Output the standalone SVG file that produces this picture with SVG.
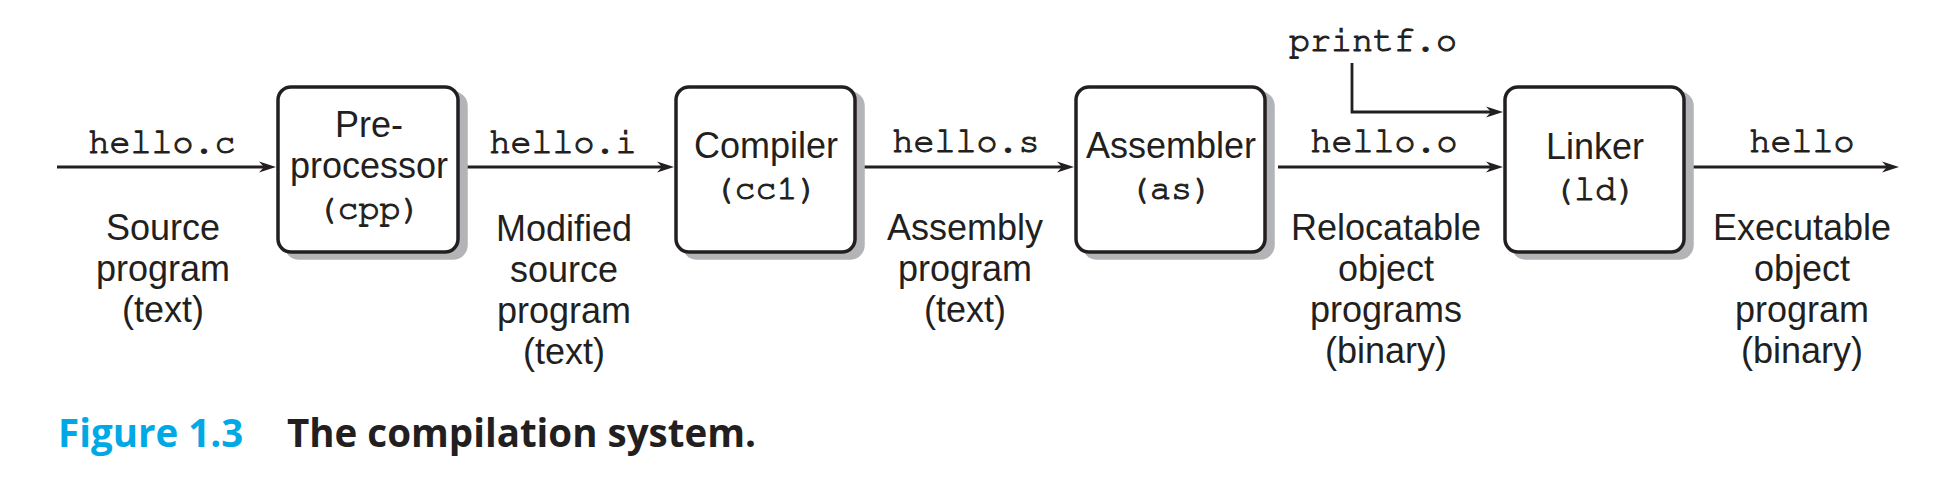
<svg xmlns="http://www.w3.org/2000/svg" width="1960" height="480" viewBox="0 0 1960 480">
<style>
.box{fill:#fff;stroke:#231f20;stroke-width:3.5}
.shadow{fill:#b3b4b7;stroke:#b3b4b7;stroke-width:3.5}
.sans{font-family:"Liberation Sans",Arial,sans-serif;font-size:36px;fill:#231f20;text-anchor:middle}
.mono{font-family:"Nimbus Mono PS","Nimbus Mono L","FreeMono","Courier 10 Pitch","Liberation Mono","Courier New",monospace;font-size:35px;fill:#231f20;stroke:#231f20;stroke-width:1.1;text-anchor:middle}
.conn{fill:none;stroke:#231f20;stroke-width:2.8}
.cap{font-family:"Open Sans","Noto Sans",sans-serif;font-size:38.5px;font-weight:700}
</style>
<defs>
<marker id="arr" viewBox="-19 -7 21 14" markerWidth="21" markerHeight="14" refX="-8" refY="0" orient="auto" markerUnits="userSpaceOnUse">
<path d="M0,0 L-17,-5.5 L-12,0 L-17,5.5 Z" fill="#231f20"/>
</marker>
</defs>
<rect width="1960" height="480" fill="#fff"/>

<g id="connectors">
<line class="conn" x1="57" y1="167" x2="268" y2="167" marker-end="url(#arr)"/>
<line class="conn" x1="460" y1="167" x2="666" y2="167" marker-end="url(#arr)"/>
<line class="conn" x1="857" y1="167" x2="1066" y2="167" marker-end="url(#arr)"/>
<line class="conn" x1="1278" y1="167" x2="1495" y2="167" marker-end="url(#arr)"/>
<path class="conn" d="M1352,63 V112 H1495" marker-end="url(#arr)"/>
<line class="conn" x1="1686" y1="167" x2="1891" y2="167" marker-end="url(#arr)"/>
</g>

<g id="connector-labels">
<text class="mono" x="162" y="153">hello.c</text>
<text class="mono" x="563" y="153">hello.i</text>
<text class="mono" x="966" y="152">hello.s</text>
<text class="mono" x="1384" y="152">hello.o</text>
<text class="mono" x="1373" y="51">printf.o</text>
<text class="mono" x="1802" y="152">hello</text>
<text class="sans" x="163"><tspan x="163" y="240">Source</tspan><tspan x="163" y="281">program</tspan><tspan x="163" y="322">(text)</tspan></text>
<text class="sans" x="564"><tspan x="564" y="241">Modified</tspan><tspan x="564" y="282">source</tspan><tspan x="564" y="323">program</tspan><tspan x="564" y="364">(text)</tspan></text>
<text class="sans" x="965"><tspan x="965" y="240">Assembly</tspan><tspan x="965" y="281">program</tspan><tspan x="965" y="322">(text)</tspan></text>
<text class="sans" x="1386"><tspan x="1386" y="240">Relocatable</tspan><tspan x="1386" y="281">object</tspan><tspan x="1386" y="322">programs</tspan><tspan x="1386" y="363">(binary)</tspan></text>
<text class="sans" x="1802"><tspan x="1802" y="240">Executable</tspan><tspan x="1802" y="281">object</tspan><tspan x="1802" y="322">program</tspan><tspan x="1802" y="363">(binary)</tspan></text>
</g>

<g id="preprocessor">
<rect class="shadow" x="286" y="93" width="180" height="165" rx="13"/>
<rect class="box" x="278" y="87" width="180" height="165" rx="13"/>
<text class="sans" x="369" y="137">Pre-</text>
<text class="sans" x="369" y="178">processor</text>
<text class="mono" x="369" y="219">(cpp)</text>
</g>

<g id="compiler">
<rect class="shadow" x="684" y="93" width="179" height="165" rx="13"/>
<rect class="box" x="676" y="87" width="179" height="165" rx="13"/>
<text class="sans" x="766" y="158">Compiler</text>
<text class="mono" x="766" y="199">(cc1)</text>
</g>

<g id="assembler">
<rect class="shadow" x="1084" y="93" width="189" height="165" rx="13"/>
<rect class="box" x="1076" y="87" width="189" height="165" rx="13"/>
<text class="sans" x="1171" y="158">Assembler</text>
<text class="mono" x="1171" y="199">(as)</text>
</g>

<g id="linker">
<rect class="shadow" x="1513" y="93" width="179" height="165" rx="13"/>
<rect class="box" x="1505" y="87" width="179" height="165" rx="13"/>
<text class="sans" x="1595" y="159">Linker</text>
<text class="mono" x="1595" y="200">(ld)</text>
</g>

<g id="caption">
<text class="cap" x="58" y="447" fill="#00a9e6">Figure 1.3</text>
<text class="cap" x="287" y="447" fill="#231f20">The compilation system.</text>
</g>
</svg>
